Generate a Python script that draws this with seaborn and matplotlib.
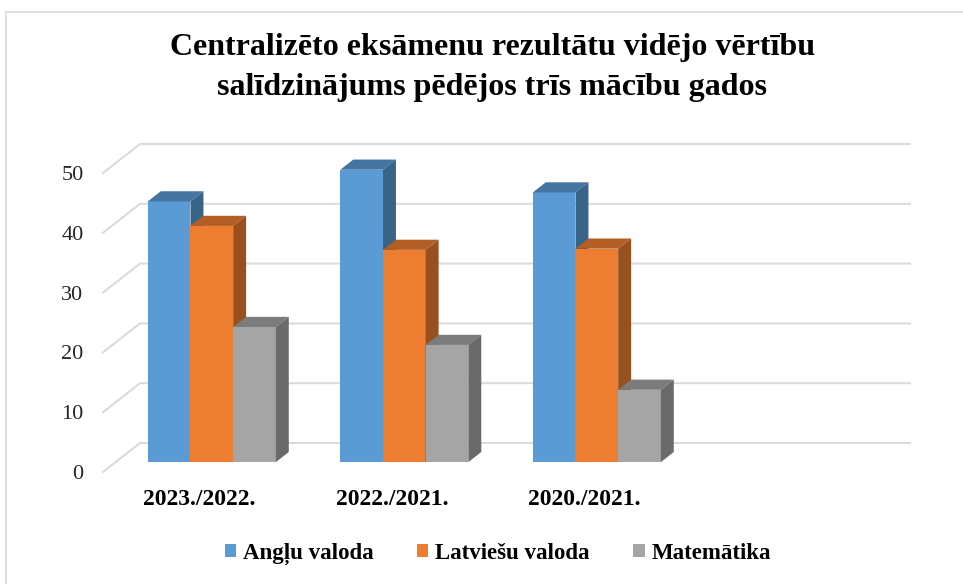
import numpy as np
import pandas as pd
import matplotlib
matplotlib.use("Agg")
import matplotlib.pyplot as plt
import seaborn as sns
from matplotlib.patches import Polygon, Rectangle, Patch
from matplotlib.colors import to_rgb

# ------------------------------
# Data
# ------------------------------
years = ["2023./2022.", "2022./2021.", "2020./2021."]
subjects = ["Angļu valoda", "Latviešu valoda", "Matemātika"]
anglu = [43.6, 48.9, 45.1]
latviesu = [39.5, 35.5, 35.7]
matematika = [22.6, 19.6, 12.1]
colors = ["#5B9BD5", "#ED7D31", "#A5A5A5"]
y_ticks = [0, 10, 20, 30, 40, 50]

df = pd.DataFrame({
    "gads": years * 3,
    "prieksmets": np.repeat(subjects, len(years)),
    "vertiba": anglu + latviesu + matematika,
})

plt.rcParams['font.family'] = ['Liberation Serif', 'DejaVu Serif']

W, H = 963, 584
fig = plt.figure(figsize=(W / 100, H / 100), dpi=100)

# light frame around the chart
fig.add_artist(Rectangle((6 / W, -0.05), 1.1, 1 - 12 / H + 0.05, transform=fig.transFigure,
                         fill=False, edgecolor="#D9D9D9", lw=1.2))

# front plane of the 3D box
ax = fig.add_axes([103 / W, (H - 472) / H, 770 / W, 299 / H])

sns.barplot(data=df, x="gads", y="vertiba", hue="prieksmets", order=years,
            hue_order=subjects, palette=colors, width=0.665, gap=0, saturation=1,
            errorbar=None, legend=False, linewidth=0, ax=ax)
ax.set_xlim(-0.5, 3.5)
ax.set_ylim(0, 50)

# depth of the box in data units
px_x = 770 / 4
px_y = 299 / 50
wall_dx, wall_dy = 37 / px_x, 29 / px_y
f1, f2 = 0.34, 0.69

# back wall + side wall grid
for t in y_ticks:
    ax.plot([-0.5, -0.5 + wall_dx, 3.5 + wall_dx], [t, t + wall_dy, t + wall_dy],
            color="#D9D9D9", lw=1.4, clip_on=False, zorder=0)

# ------------------------------
# pseudo 3D bars
# ------------------------------
bars = sorted(ax.patches, key=lambda p: p.get_x())
ddx = (f2 - f1) * wall_dx
ddy = (f2 - f1) * wall_dy
for i, p in enumerate(bars):
    c = np.array(to_rgb(p.get_facecolor()))
    x0 = p.get_x() + f1 * wall_dx
    y0 = f1 * wall_dy
    w = p.get_width()
    h = p.get_height()
    p.set_x(x0)
    p.set_y(y0)
    p.set_clip_on(False)
    z = 2 + i * 0.1
    p.set_zorder(z)
    x1, y1 = x0 + w, y0 + h
    top = Polygon([(x0, y1), (x1, y1), (x1 + ddx, y1 + ddy), (x0 + ddx, y1 + ddy)],
                  closed=True, facecolor=c * 0.75, edgecolor="none", zorder=z, clip_on=False)
    side = Polygon([(x1, y0), (x1 + ddx, y0 + ddy), (x1 + ddx, y1 + ddy), (x1, y1)],
                   closed=True, facecolor=c * 0.64, edgecolor="none", zorder=z, clip_on=False)
    ax.add_patch(top)
    ax.add_patch(side)

# ------------------------------
# axes, labels, title, legend
# ------------------------------
sns.despine(ax=ax, left=True, bottom=True)
ax.set_xlabel("")
ax.set_ylabel("")
ax.set_yticks(y_ticks)
ax.tick_params(axis="y", length=0, labelsize=16, pad=14, labelcolor="#262626")
ax.tick_params(axis="x", length=0, labelsize=17, pad=12)
for lbl in ax.get_xticklabels():
    lbl.set_fontweight("bold")

fig.text(0.511, 1 - 68 / H,
         "Centralizēto eksāmenu rezultātu vidējo vērtību\nsalīdzinājums pēdējos trīs mācību gados",
         ha="center", va="center", fontsize=23, fontweight="bold", linespacing=1.5)

handles = [Patch(facecolor=c, edgecolor="none") for c in colors]
fig.legend(handles, subjects, loc="center", bbox_to_anchor=(0.517, 1 - 554 / H), ncol=3,
           frameon=False, prop={"weight": "bold", "size": 16.5}, handlelength=0.5,
           handleheight=0.5, handletextpad=0.3, columnspacing=1.9)

fig.savefig("out.png", dpi=100)
